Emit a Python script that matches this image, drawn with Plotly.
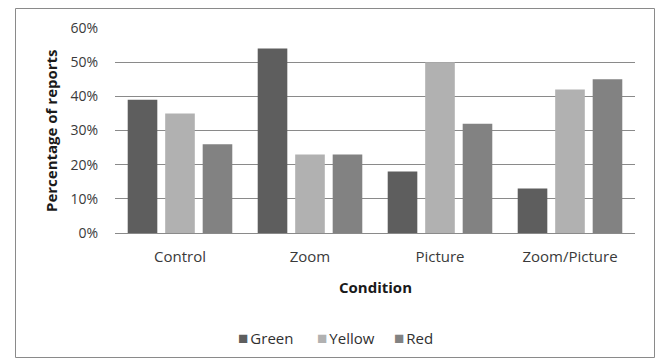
import plotly.graph_objects as go

conditions = ["Control", "Zoom", "Picture", "Zoom/Picture"]
green = [39, 54, 18, 13]
yellow = [35, 23, 50, 42]
red = [26, 23, 32, 45]
y_ticks = [0, 10, 20, 30, 40, 50, 60]
y_tick_labels = [f"{v}%" for v in y_ticks]

series = [
    ("Green", green, "#5e5e5e"),
    ("Yellow", yellow, "#b1b1b1"),
    ("Red", red, "#828282"),
]

W, H = 656, 360
ML, MR, MT, MB = 115, 21, 28, 127
PW, PH = W - ML - MR, H - MT - MB

def px_x(x):
    return (x - ML) / PW

def px_y(y):
    return (H - MB - y) / PH

font_family = "'Open Sans', 'Noto Sans', sans-serif"
fs = 15

fig = go.Figure()
for name, vals, color in series:
    fig.add_trace(go.Bar(name=name, x=conditions, y=vals, marker_color=color,
                         marker_line_width=0, showlegend=False))

fig.update_layout(
    width=W, height=H,
    margin=dict(l=ML, r=MR, t=MT, b=MB, autoexpand=False),
    paper_bgcolor="white", plot_bgcolor="white",
    barmode="group", bargap=0.135, bargroupgap=0.21,
    font=dict(family=font_family, size=fs, color="#404040"),
    xaxis=dict(showgrid=False, showline=False, ticks="",
               tickfont=dict(size=fs, color="#3a3a3a"),
               ticklabelstandoff=13),
    yaxis=dict(range=[0, 60], tickvals=y_ticks, ticktext=y_tick_labels,
               showgrid=True, gridcolor="#8a8a8a", gridwidth=1,
               zeroline=True, zerolinecolor="#8a8a8a", zerolinewidth=1,
               showline=False, ticks="", ticklabelstandoff=16,
               tickfont=dict(size=fs - 1, color="#3a3a3a")),
)

# legend row: colored square followed by the series name
legend_x = [236, 315, 392]
for (name, _, color), lx in zip(series, legend_x):
    fig.add_annotation(
        text=(f"<span style='color:{color};font-size:17px'>■</span>"
              f"<span style='font-size:8px'> </span>{name}"),
        xref="paper", yref="paper", x=px_x(lx), y=px_y(337),
        xanchor="left", yanchor="middle", showarrow=False,
        font=dict(size=fs, color="#303030"))

fig.add_annotation(text="<b>Percentage of reports</b>", textangle=-90,
                   xref="paper", yref="paper", x=px_x(51), y=px_y(131),
                   xanchor="center", yanchor="middle", showarrow=False,
                   font=dict(size=fs, color="#1a1a1a"))
fig.add_annotation(text="<b>Condition</b>",
                   xref="paper", yref="paper", x=0.5, y=px_y(287),
                   xanchor="center", yanchor="middle", showarrow=False,
                   font=dict(size=fs, color="#1a1a1a"))

fig.add_shape(type="rect", xref="paper", yref="paper",
              x0=px_x(15.5), x1=px_x(654.5), y0=px_y(357.5), y1=px_y(8.5),
              line=dict(color="#8a8a8a", width=1), layer="below")

fig.write_html("out.html")
